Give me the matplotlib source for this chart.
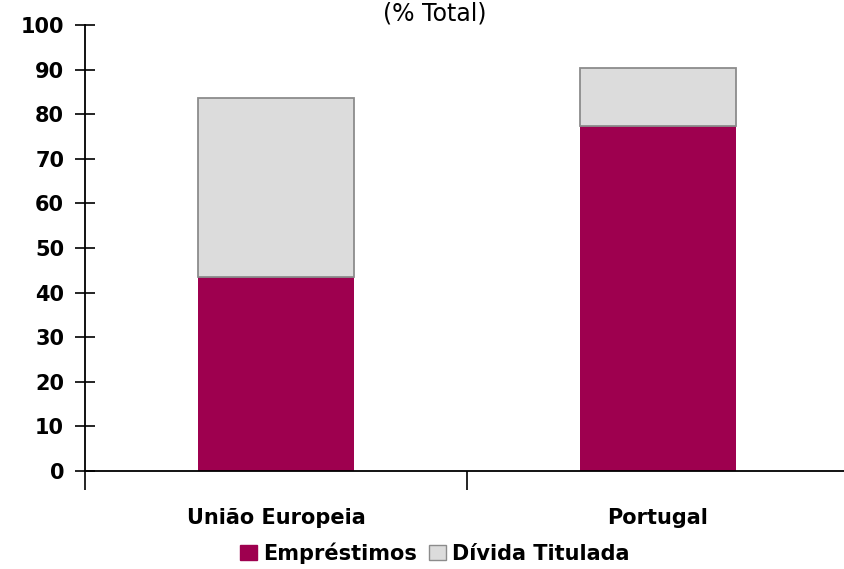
import matplotlib
matplotlib.use("Agg")
import matplotlib.pyplot as plt
import numpy as np
from matplotlib.patches import Patch

categories = ["União Europeia", "Portugal"]
emprestimos = [43.5, 77.3]
divida_titulada = [40.1, 13.1]
yticks = [0, 10, 20, 30, 40, 50, 60, 70, 80, 90, 100]

plt.rcParams['font.family'] = ['DejaVu Sans']

fig = plt.figure(figsize=(8.44, 5.69), dpi=100)
W, H = 844, 569
ax = fig.add_axes([85 / W, 1 - 471 / H, (849 - 85) / W, (471 - 25) / H])

x = np.arange(len(categories))
c1 = "#9E004F"
c2 = "#DCDCDC"
ax.bar(x, emprestimos, width=0.41, color=c1, edgecolor=c1, linewidth=0, zorder=2)
ax.bar(x, divida_titulada, width=0.41, bottom=emprestimos, color=c2,
       edgecolor="#8C8C8C", linewidth=1.3, zorder=2)

ax.set_xlim(-0.5, 1.5)
ax.set_ylim(0, 100)
ax.set_yticks(yticks)
ax.set_yticklabels([str(v) for v in yticks], fontsize=15, fontweight="bold")
ax.tick_params(axis="y", direction="inout", length=14, width=1.2, pad=8)

ax.set_xticks([-0.5, 0.5, 1.5])
ax.set_xticklabels([])
ax.tick_params(axis="x", direction="out", length=14, width=1.2)
ax.set_xticks(x, minor=True)
ax.set_xticklabels(categories, minor=True, fontsize=15, fontweight="bold")
ax.tick_params(axis="x", which="minor", length=0, pad=27)

for s in ["top", "right"]:
    ax.spines[s].set_visible(False)
for s in ["left", "bottom"]:
    ax.spines[s].set_linewidth(1.3)
    ax.spines[s].set_color("black")

fig.text(435 / W, 1 - 14 / H, "(% Total)", ha="center", va="center", fontsize=17)

handles = [Patch(facecolor=c1, edgecolor=c1, label="Empréstimos"),
           Patch(facecolor=c2, edgecolor="#8C8C8C", label="Dívida Titulada")]
fig.legend(handles=handles, loc="center", bbox_to_anchor=(435 / W, 1 - 553 / H), ncol=2,
           frameon=False, prop={"weight": "bold", "size": 15}, handlelength=0.8,
           handleheight=0.8, handletextpad=0.3, columnspacing=0.6)

fig.savefig("out.png", dpi=100)
